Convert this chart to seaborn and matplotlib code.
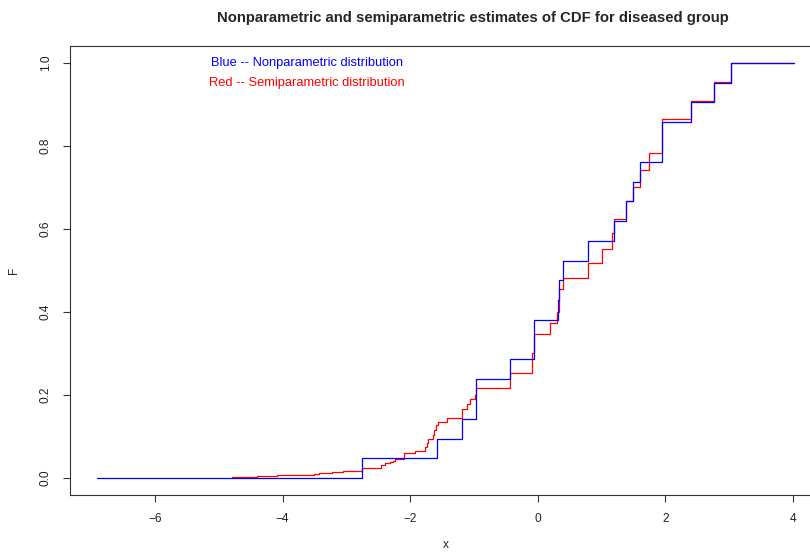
import matplotlib
matplotlib.use("Agg")
import matplotlib.pyplot as plt
import seaborn as sns
import pandas as pd

# step points (jump position, F after the jump)
blue_x = [-6.91, -2.76, -1.58, -1.19, -0.97, -0.44, -0.06, 0.31, 0.34, 0.39,
          0.78, 1.19, 1.39, 1.49, 1.61, 1.94, 2.40, 2.76, 3.03, 4.01]
blue_F = [0.000, 0.048, 0.095, 0.143, 0.238, 0.286, 0.381, 0.429, 0.476, 0.524,
          0.571, 0.619, 0.667, 0.714, 0.762, 0.857, 0.905, 0.952, 1.000, 1.000]

red_x = [-4.80, -4.40, -4.08, -3.84, -3.50, -3.43, -3.23, -3.06, -2.76, -2.73,
         -2.45, -2.40, -2.32, -2.27, -2.24, -2.10, -1.93, -1.76, -1.74, -1.72,
         -1.65, -1.63, -1.60, -1.57, -1.43, -1.19, -1.18, -1.11, -1.07, -0.99,
         -0.97, -0.44, -0.09, -0.06, 0.19, 0.30, 0.34, 0.39, 0.78, 1.00,
         1.16, 1.19, 1.39, 1.49, 1.61, 1.74, 1.94, 2.40, 2.76, 3.03, 4.01]
red_F = [0.002, 0.004, 0.006, 0.008, 0.010, 0.011, 0.015, 0.018, 0.023, 0.025,
         0.031, 0.035, 0.038, 0.042, 0.046, 0.060, 0.065, 0.075, 0.084, 0.093,
         0.104, 0.116, 0.128, 0.136, 0.145, 0.156, 0.166, 0.178, 0.190, 0.200,
         0.218, 0.254, 0.300, 0.347, 0.373, 0.400, 0.455, 0.483, 0.517, 0.551,
         0.590, 0.623, 0.667, 0.702, 0.742, 0.782, 0.864, 0.909, 0.955, 1.000, 1.000]

x_ticks = [-6, -4, -2, 0, 2, 4]
y_ticks = [0.0, 0.2, 0.4, 0.6, 0.8, 1.0]

sns.set_style("white")
plt.rcParams['font.family'] = ['Liberation Sans', 'DejaVu Sans']
plt.rcParams['axes.unicode_minus'] = True

fig = plt.figure(figsize=(8.1, 5.57), dpi=100)
ax = fig.add_axes([70 / 810, 62 / 557, 752 / 810, 449 / 557])

red = pd.DataFrame({'x': red_x, 'F': red_F})
blue = pd.DataFrame({'x': blue_x, 'F': blue_F})
sns.lineplot(data=red, x='x', y='F', ax=ax, color='#ff0000', lw=0.9,
             drawstyle='steps-post', estimator=None, sort=False)
sns.lineplot(data=blue, x='x', y='F', ax=ax, color='#0000ff', lw=0.9,
             drawstyle='steps-post', estimator=None, sort=False)

ax.set_xlim(-7.332, 4.455)
ax.set_ylim(-0.041, 1.041)
ax.set_xticks(x_ticks)
ax.set_yticks(y_ticks)
ax.set_xticklabels([f"{t}".replace('-', '\u2212') for t in x_ticks])
ax.set_yticklabels([f"{t:.1f}" for t in y_ticks], rotation=90, va='center')
ax.tick_params(direction='out', length=5, width=0.8, colors='#333333',
               labelsize=8.6, labelcolor='#222222', pad=8)
ax.tick_params(axis='x', bottom=True)
ax.tick_params(axis='y', left=True)
for s in ax.spines.values():
    s.set_color('#333333')
    s.set_linewidth(0.8)

ax.set_xlabel('x', fontsize=8.6, labelpad=10)
ax.set_ylabel('F', fontsize=8.6, labelpad=14, rotation=90)

ax.text(-3.62, 1.0, 'Blue -- Nonparametric distribution', color='#0000ff',
        fontsize=9.3, ha='center', va='center')
ax.text(-3.62, 0.952, 'Red -- Semiparametric distribution', color='#ff0000',
        fontsize=9.3, ha='center', va='center')

fig.text(473 / 810, 1 - 18 / 557,
         'Nonparametric and semiparametric estimates of CDF for diseased group',
         fontsize=10.7, fontweight='bold', ha='center', va='center')

fig.savefig('out.png', dpi=100)
